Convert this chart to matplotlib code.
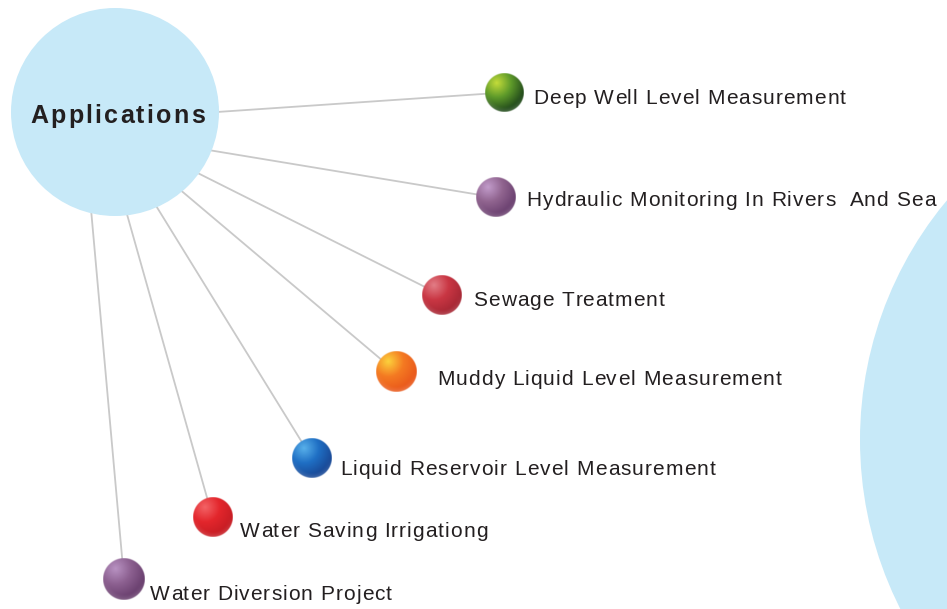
"""Applications diagram: hub circle with spokes to shaded spheres."""
import numpy as np
import matplotlib

matplotlib.use("Agg")
import matplotlib.pyplot as plt  # noqa: E402
from matplotlib.colors import to_rgb  # noqa: E402
from matplotlib.font_manager import FontProperties  # noqa: E402
from matplotlib.patches import Circle  # noqa: E402

# --- content -------------------------------------------------------------
hub_label = "Applications"
applications = [
    "Deep Well Level Measurement",
    "Hydraulic Monitoring In Rivers  And Sea",
    "Sewage Treatment",
    "Muddy Liquid Level Measurement",
    "Liquid Reservoir Level Measurement",
    "Water Saving Irrigationg",
    "Water Diversion Project",
]
# sphere shading: highlight, body, shadow
sphere_light = ["#c4dc3a", "#c29ccb", "#e27d86", "#fcd23c", "#58b0ea", "#f36366", "#b892c2"]
sphere_base = ["#5e9a2a", "#90648f", "#c93643", "#f47a22", "#1f6fc4", "#e3262c", "#8c6090"]
sphere_dark = ["#244d1c", "#6c4271", "#a82835", "#ea5a1c", "#194a98", "#c81d24", "#6a406f"]

# --- layout (pixels, y down) --------------------------------------------
W, H = 947, 609
hub_xy, hub_r = (115, 112), 104
big_xy, big_r = (1234, 440), 374
sphere_xy = [(504.5, 92.5), (495.5, 197.5), (442, 295.5), (396, 372),
             (312, 458.5), (212.5, 517), (124, 579)]
sphere_r = [19.5, 20, 20, 20.5, 20, 20, 21]
anchor_deg = [0, 22, 36.5, 50, 66.4, 83.4, 103.5]   # where each spoke leaves the hub
label_xy = [(533, 104), (526, 206), (473, 306.5), (437, 385),
            (340, 475), (240, 537), (150, 600)]

BLUE = "#c7e9f8"
SPOKE = "#c9c9c9"
INK = "#231f20"
FONT = "Liberation Sans"


def sphere_image(light, base, dark, r_px, n=120):
    u = np.linspace(-1, 1, n)
    xx, yy = np.meshgrid(u, u)
    rr = np.sqrt(xx ** 2 + yy ** 2)
    d = np.sqrt((xx + 0.4) ** 2 + (yy + 0.5) ** 2)
    stops = np.array([0.0, 0.75, 1.45])
    cols = np.array([to_rgb(light), to_rgb(base), to_rgb(dark)])
    rgb = np.stack([np.interp(d, stops, cols[:, k]) for k in range(3)], axis=-1)
    # faint reflected light along the lower rim
    rim = np.clip((rr - 0.75) / 0.25, 0, 1) * np.clip(yy, 0, 1) * 0.18
    rgb = rgb + (1 - rgb) * rim[..., None]
    alpha = np.clip((1 - rr) * r_px + 0.5, 0, 1)
    return np.dstack([rgb, alpha])


def tracked_text(ax, renderer, x, y, s, prop, tracking, **kw):
    """Draw s one glyph at a time with extra letter spacing (pixels); returns width."""
    def width(t):
        return renderer.get_text_width_height_descent(t, prop, ismath=False)[0] if t else 0.0
    bar = width("|")
    for i, ch in enumerate(s):
        if ch == " ":
            continue
        xi = x + (width(s[:i] + "|") - bar if i else 0.0) + tracking * i
        ax.text(xi, y, ch, fontproperties=prop, ha="left", **kw)
    return width(s) + tracking * (len(s) - 1)


def main() -> None:
    fig = plt.figure(figsize=(W / 100, H / 100), dpi=100)
    ax = fig.add_axes([0, 0, 1, 1])
    ax.set_xlim(0, W)
    ax.set_ylim(H, 0)
    ax.axis("off")
    renderer = fig.canvas.get_renderer()

    ax.add_patch(Circle(big_xy, big_r, color=BLUE, lw=0, zorder=1))

    for ang, (sx, sy) in zip(anchor_deg, sphere_xy):
        t = np.deg2rad(ang)
        x0 = hub_xy[0] + (hub_r - 2) * np.cos(t)
        y0 = hub_xy[1] + (hub_r - 2) * np.sin(t)
        ax.plot([x0, sx], [y0, sy], color=SPOKE, lw=1.3, solid_capstyle="round", zorder=2)

    ax.add_patch(Circle(hub_xy, hub_r, color=BLUE, lw=0, zorder=3))
    hub_prop = FontProperties(family=FONT, weight="bold", size=18)
    tracked_text(ax, renderer, 30, 123, hub_label, hub_prop, 2.3,
                 color=INK, va="baseline", zorder=4)

    label_prop = FontProperties(family=FONT, size=15)
    for i, name in enumerate(applications):
        sx, sy = sphere_xy[i]
        r = sphere_r[i]
        img = sphere_image(sphere_light[i], sphere_base[i], sphere_dark[i], r)
        ax.imshow(img, extent=(sx - r, sx + r, sy + r, sy - r), interpolation="bilinear",
                  zorder=5)
        lx, ly = label_xy[i]
        tracked_text(ax, renderer, lx, ly, name, label_prop, 1.05,
                     color=INK, va="baseline", zorder=6)

    ax.set_xlim(0, W)
    ax.set_ylim(H, 0)
    ax.set_aspect("auto")
    fig.savefig("out.png", dpi=100)


if __name__ == "__main__":
    main()
